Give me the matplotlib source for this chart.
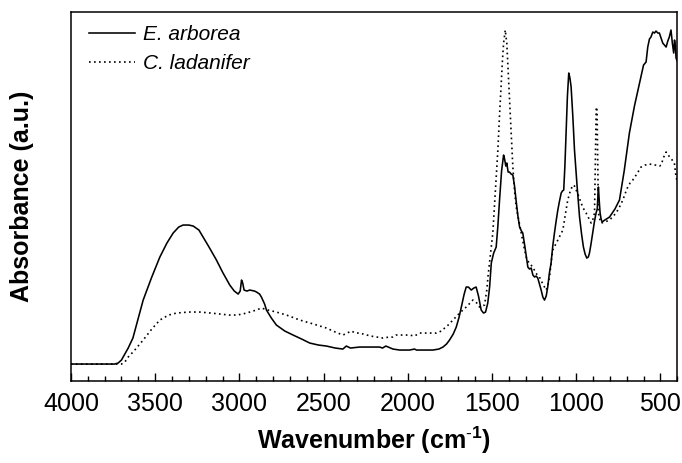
import numpy as np
import matplotlib
matplotlib.use("Agg")
from matplotlib import pyplot as plt
from matplotlib.ticker import MultipleLocator

matplotlib.rcParams['font.family'] = ['Liberation Sans', 'DejaVu Sans']
matplotlib.rcParams['mathtext.fontset'] = 'custom'
matplotlib.rcParams['mathtext.rm'] = 'Liberation Sans'
matplotlib.rcParams['mathtext.bf'] = 'Liberation Sans:bold'

# E. arborea (solid) : wavenumber / cm-1, absorbance (arbitrary units)
arb_wn = [4000, 3800, 3740, 3720, 3700, 3690, 3660, 3632, 3571, 3520, 3472, 3430, 3393, 3360,
          3334, 3300, 3274, 3240, 3215, 3180, 3136, 3100, 3057, 3030, 3007, 2995, 2987, 2980,
          2972, 2955, 2938, 2910, 2898, 2880, 2869, 2850, 2839, 2810, 2780, 2730, 2681, 2630,
          2582, 2530, 2483, 2430, 2385, 2365, 2340, 2286, 2230, 2167, 2150, 2130, 2088, 2048,
          1989, 1960, 1948, 1900, 1851, 1815, 1791, 1770, 1752, 1730, 1712, 1695, 1682, 1665,
          1653, 1640, 1623, 1608, 1594, 1580, 1564, 1550, 1538, 1525, 1514, 1504, 1490, 1475,
          1465, 1455, 1443, 1431, 1425, 1418, 1412, 1404, 1396, 1386, 1376, 1366, 1357, 1346,
          1336, 1325, 1317, 1305, 1287, 1277, 1267, 1257, 1247, 1238, 1228, 1218, 1208, 1198,
          1188, 1178, 1169, 1159, 1149, 1139, 1129, 1119, 1109, 1099, 1089, 1082, 1074, 1067,
          1060, 1052, 1044, 1037, 1030, 1020, 1010, 995, 980, 968, 957, 947, 937, 928,
          921, 912, 902, 892, 882, 875, 868, 863, 858, 852, 846, 830, 802, 770,
          743, 715, 684, 654, 624, 600, 585, 575, 565, 556, 545, 535, 526, 515,
          506, 496, 486, 476, 466, 456, 447, 437, 429, 421, 416, 411, 407, 400]
arb_abs = [17, 17, 17, 18, 21, 24, 33, 43, 81, 104, 124, 138, 148, 154,
           156, 156, 155, 151, 144, 134, 121, 109, 96, 90, 87, 90, 101, 98,
           91, 90, 91, 90, 89, 87, 84, 77, 71, 63, 56, 50, 46, 42,
           38, 36, 35, 33, 32, 35, 33, 34, 34, 34, 33, 35, 32, 31,
           31, 32, 31, 31, 31, 32, 34, 37, 41, 47, 54, 64, 74, 87,
           94, 94, 91, 93, 94, 85, 71, 68, 69, 78, 94, 118, 128, 134,
           155, 181, 210, 226, 222, 215, 218, 209, 209, 207, 206, 195, 181, 165,
           154, 150, 148, 135, 114, 112, 113, 106, 104, 105, 103, 97, 91, 84,
           81, 85, 94, 108, 118, 135, 148, 160, 171, 180, 188, 190, 191, 215,
           248, 285, 308, 303, 294, 265, 231, 196, 164, 147, 134, 127, 123, 124,
           128, 137, 148, 159, 168, 172, 194, 180, 168, 162, 159, 161, 164, 172,
           181, 210, 248, 275, 298, 316, 319, 334, 342, 344, 349, 348, 350, 348,
           348, 343, 338, 336, 334, 340, 344, 351, 338, 328, 341, 335, 323, 320]

# C. ladanifer (dotted)
lad_wn = [4000, 3800, 3700, 3680, 3660, 3626, 3571, 3520, 3472, 3420, 3373, 3300, 3235, 3170,
          3116, 3060, 3017, 2980, 2938, 2900, 2869, 2830, 2780, 2720, 2641, 2560, 2483, 2430,
          2385, 2360, 2335, 2310, 2286, 2220, 2147, 2110, 2088, 2070, 2048, 1989, 1960, 1930,
          1880, 1831, 1800, 1781, 1760, 1732, 1692, 1653, 1613, 1590, 1574, 1560, 1544, 1530,
          1524, 1510, 1495, 1480, 1465, 1455, 1445, 1438, 1431, 1421, 1412, 1404, 1396, 1386,
          1376, 1366, 1356, 1340, 1326, 1310, 1297, 1280, 1257, 1240, 1218, 1198, 1178, 1168,
          1158, 1148, 1139, 1124, 1109, 1094, 1079, 1065, 1050, 1035, 1020, 1010, 1000, 985,
          971, 955, 941, 926, 911, 900, 891, 886, 881, 876, 872, 868, 860, 852,
          830, 802, 780, 763, 740, 723, 708, 694, 680, 664, 640, 615, 590, 565,
          530, 505, 496, 480, 466, 455, 443, 430, 417, 407, 400]
lad_abs = [17, 17, 17, 19, 24, 30, 41, 52, 61, 66, 68, 69, 69, 68,
           67, 66, 66, 67, 69, 71, 73, 71, 69, 66, 61, 57, 53, 49,
           46, 48, 50, 48, 48, 45, 43, 44, 44, 46, 46, 46, 45, 48,
           48, 48, 50, 53, 56, 61, 68, 74, 81, 78, 74, 75, 76, 92,
           104, 125, 148, 190, 231, 266, 298, 320, 338, 351, 338, 310, 281, 248,
           214, 190, 174, 160, 148, 134, 124, 118, 114, 108, 104, 97, 91, 96,
           104, 120, 131, 136, 141, 146, 151, 166, 181, 190, 196, 195, 191, 185,
           178, 172, 168, 163, 158, 162, 168, 220, 274, 271, 220, 168, 162, 158,
           159, 161, 165, 168, 175, 181, 188, 194, 198, 201, 207, 214, 216, 217,
           216, 215, 216, 224, 229, 226, 224, 221, 218, 204, 200]

fig = plt.figure(figsize=(6.82, 4.63), dpi=100)
ax = fig.add_axes([0.104, 0.177, 0.889, 0.797])

ax.plot(arb_wn, arb_abs, color='black', lw=1.15, label='E. arborea')
ax.plot(lad_wn, lad_abs, color='black', lw=1.2, linestyle=(0, (1, 2)), label='C. ladanifer')

ax.set_xlim(4000, 400)
ax.set_ylim(0, 369)
ax.xaxis.set_major_locator(MultipleLocator(500))
ax.xaxis.set_minor_locator(MultipleLocator(100))
ax.tick_params(axis='x', which='both', direction='in', top=False, labelsize=18, pad=8)
ax.tick_params(axis='x', which='major', length=6, width=1)
ax.tick_params(axis='x', which='minor', length=3.5, width=1)
ax.set_yticks([])
for s in ax.spines.values():
    s.set_linewidth(1.1)

ax.set_xlabel('Wavenumber (cm$^{\\mathbf{\\text{-}1}}$)', fontsize=18, fontweight='bold', va='center')
ax.xaxis.set_label_coords(0.5, -0.16)
ax.set_ylabel('Absorbance (a.u.)', fontsize=18, fontweight='bold', va='center')
ax.yaxis.set_label_coords(-0.081, 0.5)

leg = ax.legend(loc='upper left', bbox_to_anchor=(0.03, 0.965), frameon=False,
                prop={'style': 'italic', 'size': 15}, handlelength=2.2,
                handletextpad=0.4, labelspacing=0.5, borderpad=0, borderaxespad=0)

fig.savefig("out.png", dpi=100)
